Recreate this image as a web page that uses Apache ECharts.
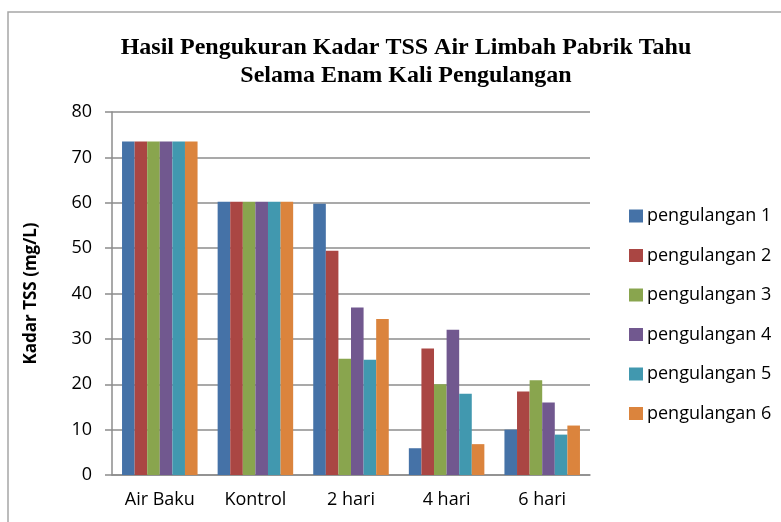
<!DOCTYPE html>
<html>
<head>
<meta charset="utf-8">
<script src="https://cdn.jsdelivr.net/npm/echarts@6/dist/echarts.min.js"></script>
<style>html,body{margin:0;padding:0;background:#fff}#c{width:781px;height:522px}</style>
</head>
<body>
<div id="c"></div>
<script>
var categories = ['Air Baku', 'Kontrol', '2 hari', '4 hari', '6 hari'];
var seriesNames = ['pengulangan 1', 'pengulangan 2', 'pengulangan 3', 'pengulangan 4', 'pengulangan 5', 'pengulangan 6'];
var pengulangan1 = [73.5, 60.2, 59.8, 5.9, 10.0];
var pengulangan2 = [73.5, 60.2, 49.4, 27.9, 18.4];
var pengulangan3 = [73.5, 60.2, 25.6, 20.0, 20.9];
var pengulangan4 = [73.5, 60.2, 36.9, 32.0, 16.0];
var pengulangan5 = [73.5, 60.2, 25.4, 17.9, 8.9];
var pengulangan6 = [73.5, 60.2, 34.4, 6.8, 10.9];
var yTicks = [0, 10, 20, 30, 40, 50, 60, 70, 80];

var allData = [pengulangan1, pengulangan2, pengulangan3, pengulangan4, pengulangan5, pengulangan6];
var colors = ['#4572A7', '#AA4643', '#89A54E', '#71588F', '#4198AF', '#DB843D'];
var sans = '"Open Sans", "Liberation Sans", sans-serif';

var chart = echarts.init(document.getElementById('c'), null, {renderer: 'canvas'});
chart.setOption({
  animation: false,
  backgroundColor: '#fff',
  color: colors,
  graphic: [{
    type: 'rect', shape: {x: 8, y: 12, width: 800, height: 600},
    style: {fill: 'none', stroke: '#a6a6a6', lineWidth: 1.5}, silent: true
  }],
  title: {
    text: 'Hasil Pengukuran Kadar TSS Air Limbah Pabrik Tahu\nSelama Enam Kali Pengulangan',
    left: 401, top: 29, textAlign: 'center',
    textStyle: {fontFamily: '"Liberation Serif", "Times New Roman", serif', fontWeight: 'bold', fontSize: 24, lineHeight: 28, color: '#000'}
  },
  legend: {
    orient: 'vertical', left: 624, top: 201,
    itemWidth: 14, itemHeight: 13, itemGap: 19.5,
    icon: 'rect',
    textStyle: {fontFamily: sans, fontSize: 18, lineHeight: 20, color: '#000', padding: [0, 0, 0, -1]},
    data: seriesNames
  },
  grid: {left: 112, right: 191, top: 112, bottom: 47},
  xAxis: {
    type: 'category', data: categories,
    axisLine: {lineStyle: {color: '#8c8c8c', width: 1.5}},
    axisTick: {show: false},
    axisLabel: {fontFamily: sans, fontSize: 18, color: '#000', margin: 16}
  },
  yAxis: {
    type: 'value', min: yTicks[0], max: yTicks[yTicks.length - 1], interval: 10,
    name: 'Kadar TSS (mg/L)', nameLocation: 'middle', nameGap: 72,
    nameTextStyle: {fontFamily: sans, fontSize: 17, fontWeight: 'bold', color: '#000'},
    axisLine: {show: true, lineStyle: {color: '#8c8c8c', width: 1.5}},
    axisTick: {show: true, inside: false, length: 7, lineStyle: {color: '#8c8c8c', width: 1.5}},
    axisLabel: {fontFamily: sans, fontSize: 18, color: '#000', margin: 20},
    splitLine: {show: true, lineStyle: {color: '#8c8c8c', width: 1.5}}
  },
  series: seriesNames.map(function (n, i) {
    return {
      name: n, type: 'bar', data: allData[i],
      barGap: '0%', barCategoryGap: '21%',
      itemStyle: {color: colors[i]}
    };
  })
});
</script>
</body>
</html>
